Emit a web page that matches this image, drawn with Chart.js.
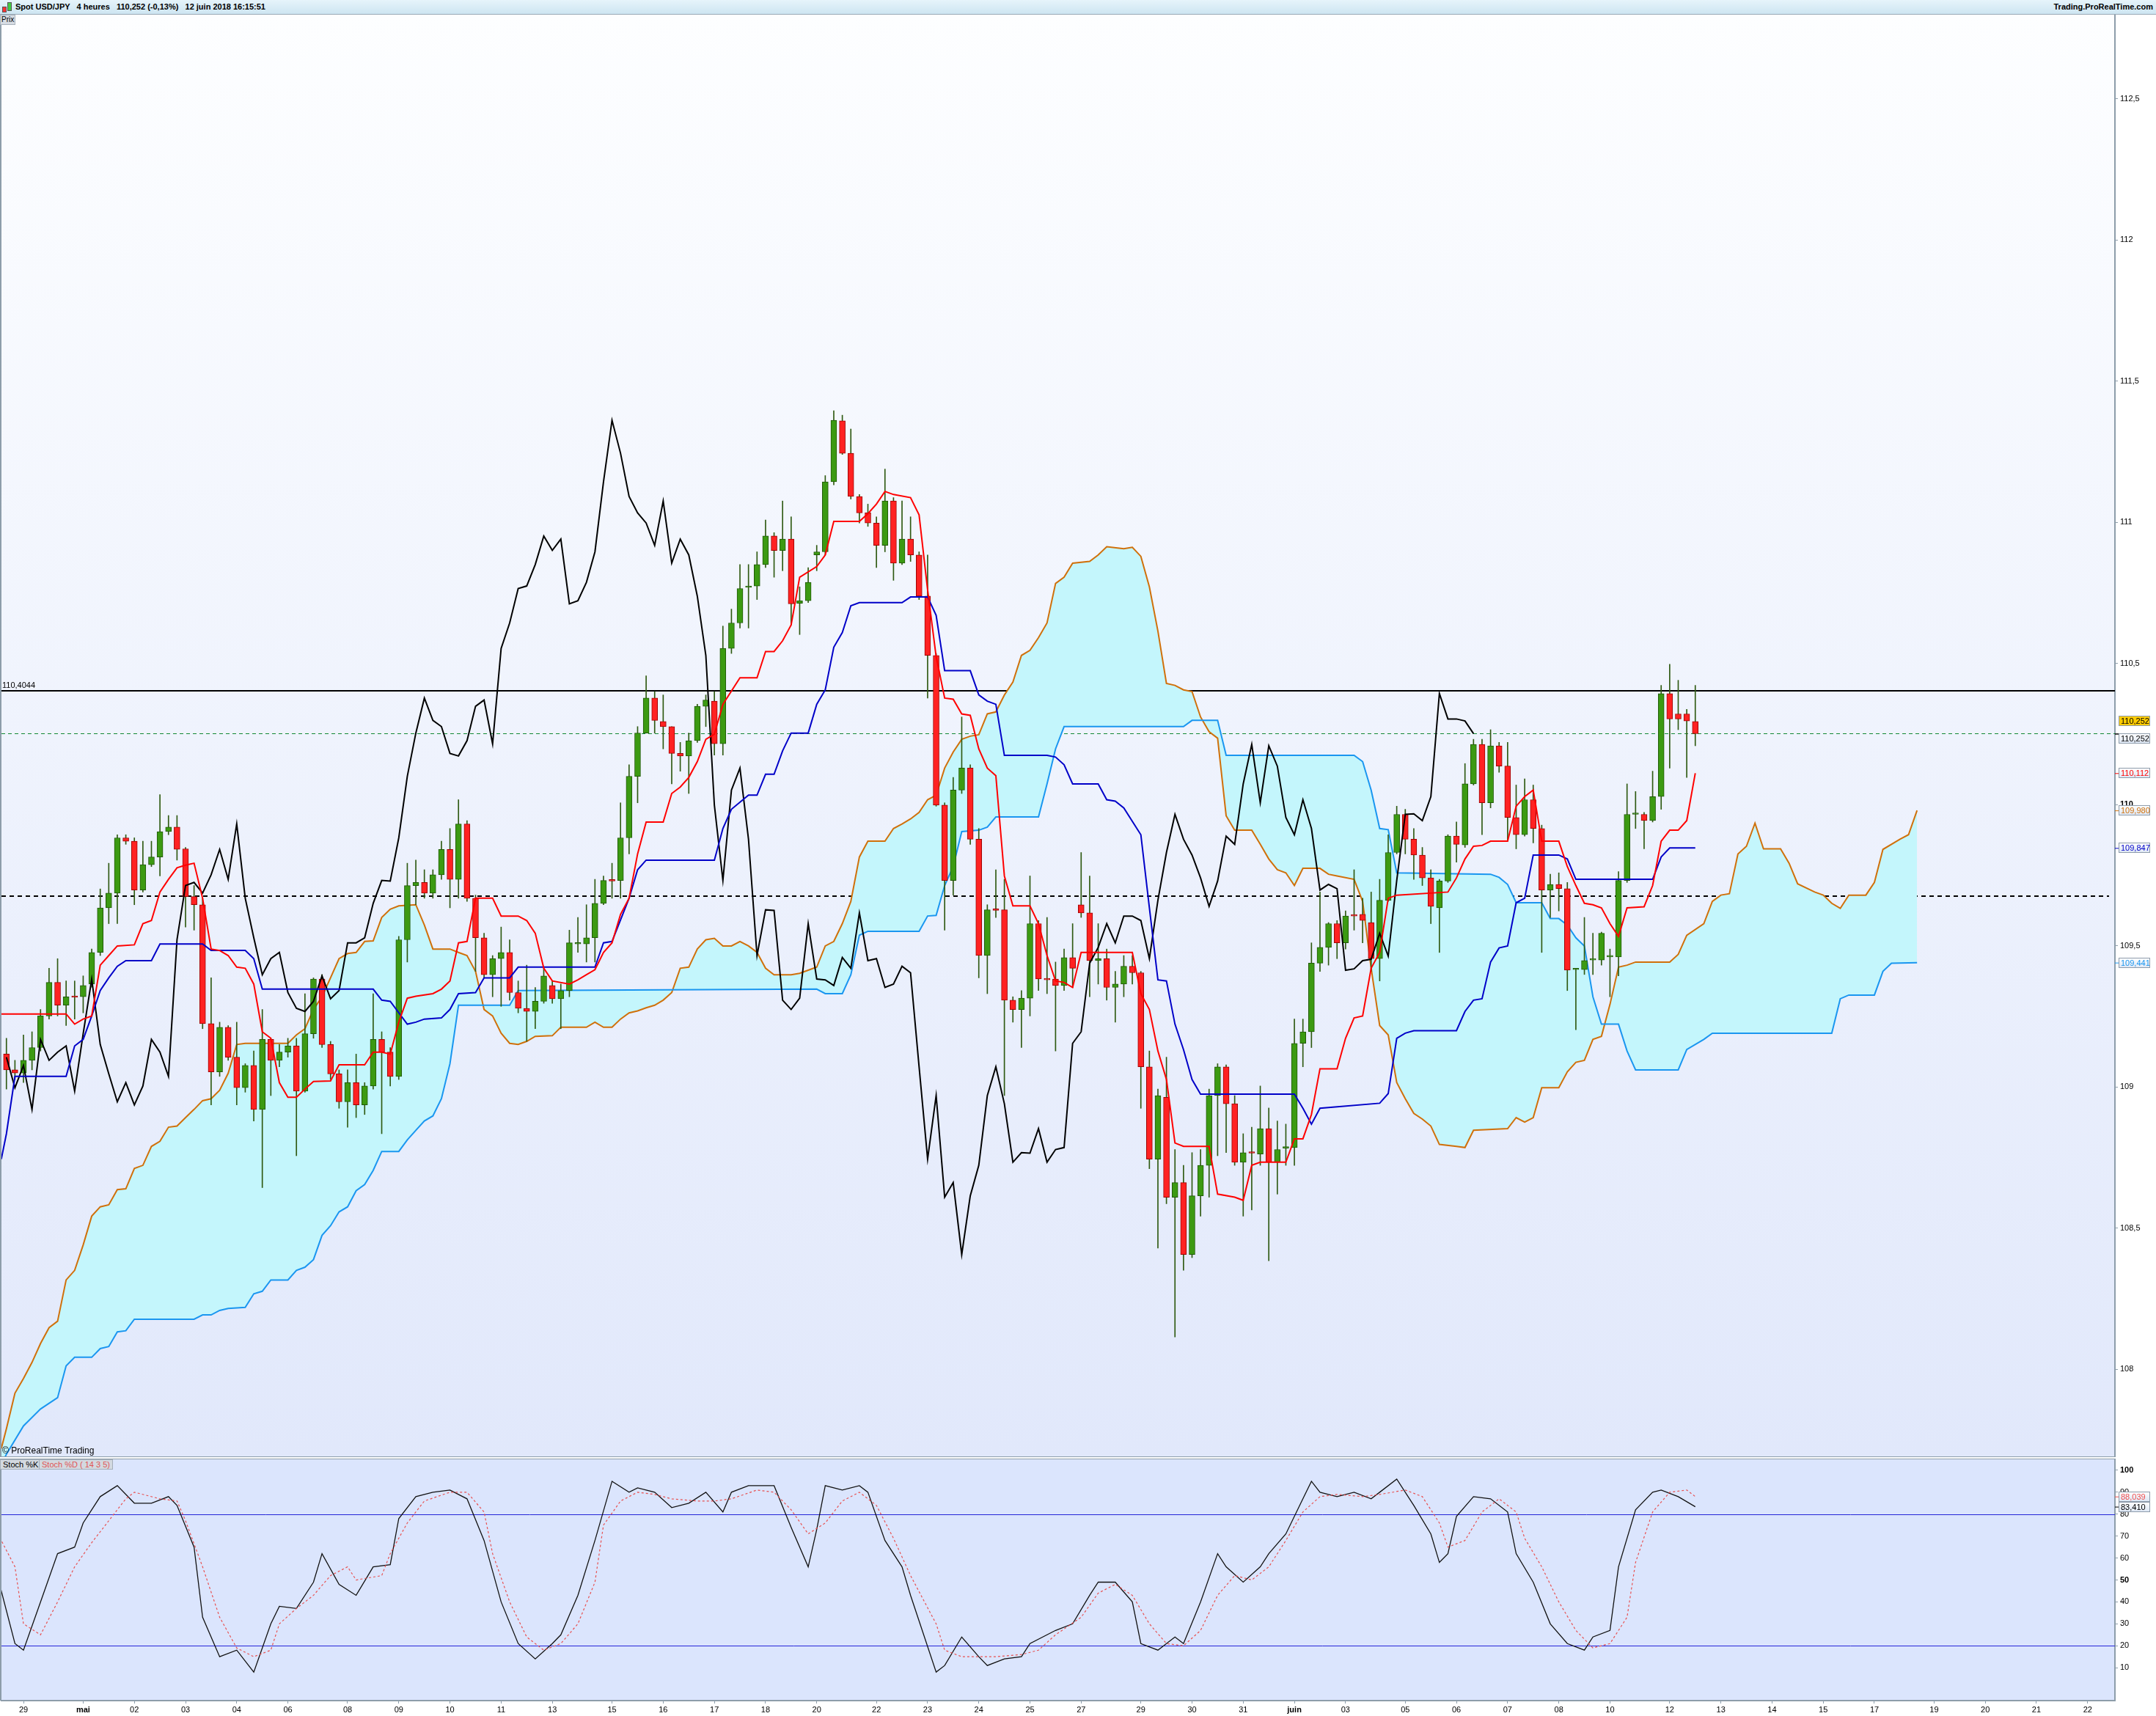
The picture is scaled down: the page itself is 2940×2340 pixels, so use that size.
<!DOCTYPE html>
<html>
<head>
<meta charset="utf-8">
<script src="https://cdn.jsdelivr.net/npm/chart.js@4.4.1/dist/chart.umd.min.js"></script>
<style>
  body { margin: 0; width: 2940px; height: 2340px; background: #fff; position: relative; overflow: hidden; font-family: Arial, "Liberation Sans", sans-serif; }
  #hdr { position: absolute; left: 0; top: 0; width: 2940px; height: 19px; background: linear-gradient(#e6f4fb, #cde5f1); border-bottom: 1px solid #98a8b6; }
  #hdr .t { position: absolute; top: 3px; font-size: 11px; font-weight: bold; white-space: pre; color: #000; }
  .ico { position: absolute; border: 1px solid #555; }
  #prix { position: absolute; left: 0; top: 20px; height: 12px; background: #d6dce3; border: 1px solid #a8b2bc; font-size: 10px; line-height: 12px; padding: 0 1px; z-index: 5; white-space: pre; }
  .lbl { position: absolute; top: 1990px; height: 12px; background: #d3d9e0; border: 1px solid #a5afba; font-size: 11px; line-height: 12px; padding: 0 3px; z-index: 5; white-space: pre; }
  canvas { position: absolute; left: 0; }
</style>
</head>
<body>
<div id="hdr">
  <div class="ico" style="left:3px;top:9px;width:4px;height:6px;background:#f33;"></div>
  <div class="ico" style="left:10px;top:3px;width:4px;height:10px;background:#4c4;"></div>
  <div class="t" style="left:21px;">Spot USD/JPY   4 heures   110,252 (-0,13%)   12 juin 2018 16:15:51</div>
  <div class="t" style="right:4px;">Trading.ProRealTime.com</div>
</div>
<div id="prix">Prix</div>
<div class="lbl" style="left:0;">Stoch %K</div>
<div class="lbl" style="left:53px;color:#e05555;">Stoch %D ( 14 3 5)</div>
<canvas id="price" width="2940" height="1967" style="top:20px;width:2940px;height:1967px"></canvas>
<canvas id="stoch" width="2940" height="352" style="top:1988px;width:2940px;height:352px"></canvas>
<script>
// ---- candles, one per 4h bar (bar 0 = Fri 27 Apr late, bar 198 = 12 Jun)
const opens = [109.117,109.061,109.050,109.095,109.140,109.252,109.371,109.290,109.320,109.320,
109.365,109.477,109.635,109.687,109.883,109.871,109.698,109.788,109.815,109.905,
109.921,109.844,109.675,109.646,109.225,109.054,109.212,109.106,108.998,109.077,
108.921,109.169,109.095,109.124,109.146,108.986,109.189,109.383,109.151,109.047,
108.948,109.016,108.937,109.004,109.169,109.124,109.038,109.522,109.714,109.725,
109.687,109.752,109.842,109.736,109.932,109.669,109.529,109.398,109.455,109.477,
109.335,109.279,109.268,109.304,109.360,109.313,109.342,109.507,109.507,109.529,
109.651,109.732,109.732,109.883,110.101,110.254,110.378,110.295,110.277,110.182,
110.173,110.227,110.349,110.367,110.216,110.554,110.644,110.770,110.775,110.851,
110.952,110.901,110.941,110.714,110.723,110.885,110.896,111.144,111.360,111.245,
111.092,111.034,110.998,110.919,111.076,110.856,110.941,110.885,110.739,110.529,
109.999,109.732,110.052,110.130,109.878,109.466,109.628,109.628,109.308,109.275,
109.315,109.579,109.383,109.383,109.360,109.459,109.646,109.617,109.448,109.455,
109.353,109.365,109.428,109.405,109.072,108.745,108.964,108.610,108.662,108.407,
108.615,108.723,108.970,109.072,108.941,108.734,108.768,108.763,108.853,108.734,
108.784,108.786,109.155,109.196,109.439,109.495,109.579,109.511,109.608,109.612,
109.583,109.455,109.662,109.831,109.966,109.878,109.822,109.741,109.635,109.730,
109.889,109.858,110.074,110.214,110.007,110.209,110.137,109.955,109.894,110.018,
109.916,109.698,109.718,109.703,109.416,109.416,109.450,109.450,109.461,109.461,
109.732,109.966,109.966,109.944,110.029,110.394,110.322,110.322,110.295];
const highs = [109.173,109.095,109.185,109.196,109.275,109.421,109.455,109.376,109.376,109.394,
109.489,109.702,109.793,109.894,109.894,109.883,109.871,109.871,110.036,109.962,
109.962,109.849,109.714,109.669,109.387,109.230,109.218,109.230,109.083,109.128,
109.275,109.173,109.151,109.173,109.173,109.331,109.387,109.398,109.162,109.061,
109.061,109.117,109.016,109.331,109.196,109.140,109.534,109.793,109.804,109.770,
109.770,109.871,109.916,110.018,109.944,109.680,109.545,109.466,109.567,109.522,
109.376,109.432,109.353,109.421,109.376,109.365,109.556,109.601,109.646,109.736,
109.748,109.793,110.007,110.142,110.277,110.457,110.401,110.389,110.277,110.221,
110.254,110.356,110.389,110.401,110.633,110.693,110.851,110.851,110.896,111.009,
110.964,111.076,111.020,110.772,110.840,110.919,111.166,111.396,111.380,111.331,
111.099,111.065,111.020,111.189,111.088,111.076,111.020,110.896,110.885,110.536,
110.007,110.097,110.311,110.142,109.916,109.646,109.770,109.736,109.320,109.342,
109.748,109.590,109.601,109.443,109.489,109.579,109.831,109.748,109.579,109.489,
109.410,109.466,109.466,109.410,109.128,108.993,109.106,108.779,108.723,108.768,
108.779,108.993,109.083,109.079,108.970,108.835,108.858,109.004,108.926,108.880,
108.869,109.241,109.241,109.511,109.691,109.583,109.590,109.624,109.770,109.669,
109.691,109.736,109.894,109.995,109.984,109.916,109.849,109.770,109.736,109.894,
109.939,110.146,110.232,110.232,110.266,110.221,110.221,110.070,110.092,110.070,
109.928,109.754,109.759,109.725,109.421,109.601,109.545,109.549,109.489,109.763,
110.074,110.047,109.973,110.119,110.423,110.498,110.441,110.338,110.423];
const lows = [108.993,109.027,109.016,109.061,109.128,109.241,109.252,109.218,109.241,109.263,
109.354,109.466,109.579,109.579,109.860,109.646,109.691,109.781,109.748,109.894,
109.804,109.567,109.556,109.207,108.937,109.038,109.095,108.937,108.982,108.880,
108.644,108.970,109.072,109.106,108.757,108.982,109.173,109.140,109.027,108.925,
108.858,108.892,108.903,108.993,108.835,109.004,109.027,109.443,109.646,109.669,
109.669,109.736,109.635,109.669,109.658,109.410,109.387,109.320,109.286,109.308,
109.263,109.162,109.207,109.297,109.297,109.207,109.320,109.477,109.443,109.443,
109.646,109.669,109.669,109.826,110.007,110.254,110.254,110.198,110.074,110.119,
110.040,110.221,110.277,110.176,110.176,110.536,110.626,110.626,110.727,110.840,
110.806,110.829,110.637,110.603,110.716,110.829,110.885,111.133,111.241,111.083,
110.998,110.986,110.840,110.896,110.795,110.851,110.862,110.727,110.378,109.995,
109.556,109.680,110.040,109.860,109.387,109.331,109.601,108.970,109.230,109.140,
109.252,109.342,109.331,109.128,109.342,109.353,109.601,109.320,109.365,109.308,
109.230,109.320,109.365,108.925,108.711,108.430,108.587,108.115,108.351,108.396,
108.543,108.610,108.757,108.768,108.723,108.543,108.565,108.723,108.385,108.621,
108.723,108.723,109.072,109.140,109.410,109.432,109.455,109.489,109.556,109.511,
109.410,109.376,109.658,109.826,109.826,109.736,109.714,109.579,109.477,109.725,
109.797,109.849,110.070,109.894,109.989,110.115,109.871,109.844,109.889,109.865,
109.477,109.601,109.624,109.342,109.203,109.399,109.399,109.432,109.320,109.394,
109.725,109.916,109.844,109.939,109.984,110.130,110.266,110.097,110.209];
const closes = [109.061,109.050,109.095,109.140,109.252,109.371,109.290,109.320,109.318,109.360,
109.477,109.635,109.687,109.883,109.871,109.698,109.788,109.815,109.905,109.921,
109.842,109.675,109.646,109.225,109.054,109.212,109.106,108.998,109.077,108.921,
109.169,109.095,109.124,109.146,108.986,109.189,109.383,109.151,109.047,108.948,
109.016,108.937,109.004,109.169,109.124,109.038,109.522,109.714,109.725,109.687,
109.752,109.842,109.736,109.932,109.669,109.529,109.398,109.455,109.477,109.335,
109.279,109.268,109.304,109.394,109.313,109.342,109.511,109.511,109.529,109.651,
109.732,109.730,109.883,110.101,110.254,110.378,110.299,110.277,110.182,110.173,
110.227,110.349,110.371,110.216,110.554,110.644,110.766,110.775,110.851,110.952,
110.901,110.941,110.712,110.723,110.788,110.896,111.144,111.362,111.245,111.092,
111.034,110.998,110.919,111.076,110.856,110.941,110.885,110.739,110.529,109.999,
109.732,110.052,110.130,109.878,109.466,109.628,109.626,109.308,109.275,109.315,
109.579,109.383,109.380,109.360,109.459,109.421,109.617,109.448,109.455,109.353,
109.365,109.428,109.405,109.072,108.745,108.970,108.610,108.662,108.407,108.615,
108.723,108.970,109.072,108.941,108.734,108.768,108.766,108.853,108.734,108.779,
108.786,109.155,109.196,109.439,109.495,109.579,109.511,109.606,109.606,109.590,
109.455,109.662,109.831,109.966,109.878,109.822,109.741,109.640,109.730,109.889,
109.860,110.074,110.214,110.007,110.209,110.137,109.955,109.894,110.018,109.916,
109.698,109.718,109.703,109.414,109.419,109.448,109.453,109.545,109.464,109.732,
109.966,109.968,109.944,110.029,110.394,110.304,110.304,110.297,110.252];

// ---- Ichimoku lines, [bar, price] vertices
const tenkan = [[-0.6,109.259],[7,109.259],[8,109.223],[9,109.241],[10,109.252],[11,109.432],[12,109.466],[13,109.500],[15,109.504],[16,109.579],[17,109.590],[18,109.691],[19,109.736],[20,109.777],[21,109.786],[22,109.793],[23,109.669],[24,109.489],[25,109.484],[26,109.466],[27,109.425],[28,109.421],[29,109.365],[30,109.196],[31,109.173],[32,109.016],[33,108.964],[34,108.964],[35,108.993],[36,109.020],[38,109.022],[39,109.079],[42,109.079],[43,109.124],[44,109.124],[45,109.117],[46,109.230],[47,109.315],[48,109.322],[50,109.331],[51,109.347],[52,109.376],[53,109.511],[54,109.516],[55,109.669],[57,109.669],[58,109.606],[60,109.606],[61,109.590],[62,109.545],[63,109.421],[64,109.376],[66,109.365],[67,109.380],[68,109.398],[69,109.416],[70,109.477],[71,109.511],[72,109.612],[73,109.669],[74,109.826],[75,109.939],[77,109.939],[78,110.040],[79,110.063],[80,110.097],[81,110.153],[82,110.232],[83,110.250],[84,110.356],[86,110.450],[88,110.450],[89,110.543],[90,110.543],[91,110.581],[92,110.637],[93,110.806],[95,110.844],[96,110.885],[97,111.004],[100,111.004],[101,111.031],[102,111.065],[103,111.110],[104,111.099],[106,111.088],[107,111.027],[108,110.761],[109,110.525],[110,110.378],[111,110.374],[112,110.322],[113,110.317],[114,110.198],[115,110.130],[116,110.103],[117,109.748],[118,109.642],[120,109.642],[121,109.579],[122,109.466],[123,109.376],[124,109.371],[125,109.353],[126,109.477],[132,109.477],[133,109.331],[134,109.275],[135,109.128],[136,109.027],[137,108.802],[138,108.790],[141,108.790],[142,108.621],[144,108.610],[145,108.599],[146,108.723],[147,108.734],[150,108.734],[151,108.817],[152,108.817],[153,108.903],[154,109.065],[156,109.065],[157,109.173],[158,109.245],[159,109.252],[160,109.421],[161,109.477],[162,109.669],[163,109.680],[169,109.691],[170,109.741],[171,109.808],[172,109.853],[173,109.856],[174,109.871],[176,109.871],[177,109.995],[178,110.029],[179,110.052],[180,109.871],[182,109.871],[183,109.781],[184,109.714],[185,109.651],[186,109.646],[187,109.635],[188,109.579],[189,109.534],[190,109.635],[192,109.639],[193,109.714],[194,109.871],[195,109.910],[196,109.910],[197,109.944],[198,110.112]];
const kijun = [[-0.6,108.745],[0,108.835],[1,109.038],[7,109.038],[8,109.146],[9,109.169],[10,109.252],[11,109.342],[12,109.387],[13,109.428],[14,109.448],[17,109.448],[18,109.507],[23,109.507],[24,109.484],[28,109.484],[29,109.455],[30,109.347],[43,109.347],[44,109.308],[45,109.304],[47,109.223],[48,109.230],[49,109.241],[51,109.245],[52,109.275],[53,109.331],[55,109.335],[56,109.387],[59,109.387],[60,109.425],[69,109.425],[70,109.511],[71,109.516],[73,109.669],[74,109.770],[75,109.804],[83,109.804],[84,109.916],[85,109.984],[87,110.034],[88,110.034],[89,110.108],[90,110.108],[91,110.191],[92,110.254],[94,110.254],[95,110.356],[96,110.407],[97,110.558],[98,110.610],[99,110.705],[100,110.716],[105,110.716],[106,110.736],[108,110.736],[109,110.671],[110,110.475],[113,110.475],[114,110.389],[115,110.367],[116,110.356],[117,110.175],[122,110.175],[123,110.169],[124,110.142],[125,110.074],[128,110.074],[129,110.018],[130,110.013],[131,109.989],[133,109.894],[134,109.635],[135,109.380],[136,109.376],[137,109.223],[138,109.133],[139,109.027],[140,108.975],[151,108.975],[152,108.925],[153,108.869],[154,108.925],[161,108.943],[162,108.977],[163,109.173],[164,109.191],[165,109.200],[170,109.200],[171,109.268],[172,109.308],[173,109.313],[174,109.443],[175,109.493],[176,109.500],[177,109.653],[178,109.669],[179,109.822],[182,109.822],[183,109.808],[184,109.736],[193,109.736],[194,109.815],[195,109.847],[198,109.847]];
// Senkou span A (orange) and span B (light blue), already shifted 26 bars ahead
const spanA = [[-0.6,107.72],[0,107.79],[1,107.916],[2,107.968],[3,108.025],[4,108.092],[5,108.148],[6,108.171],[7,108.317],[8,108.351],[9,108.441],[10,108.543],[11,108.576],[12,108.583],[13,108.637],[14,108.640],[15,108.712],[16,108.723],[17,108.790],[18,108.808],[19,108.858],[20,108.862],[21,108.892],[22,108.921],[23,108.952],[24,108.959],[25,108.989],[26,109.049],[27,109.151],[28,109.155],[33,109.155],[34,109.185],[35,109.207],[36,109.275],[37,109.320],[38,109.387],[39,109.455],[40,109.473],[41,109.477],[42,109.516],[43,109.518],[44,109.601],[45,109.630],[46,109.642],[48,109.646],[49,109.574],[50,109.489],[52,109.489],[53,109.477],[54,109.466],[55,109.410],[56,109.275],[57,109.252],[58,109.191],[59,109.155],[60,109.151],[61,109.162],[62,109.180],[64,109.182],[65,109.212],[68,109.212],[69,109.230],[70,109.212],[71,109.212],[72,109.241],[73,109.263],[74,109.270],[75,109.281],[76,109.290],[77,109.308],[78,109.335],[79,109.421],[80,109.425],[81,109.489],[82,109.522],[83,109.527],[84,109.500],[85,109.500],[86,109.516],[87,109.500],[88,109.477],[89,109.421],[90,109.398],[92,109.398],[93,109.403],[94,109.414],[95,109.425],[96,109.500],[97,109.516],[98,109.579],[99,109.658],[100,109.815],[101,109.871],[103,109.871],[104,109.916],[105,109.932],[106,109.950],[107,109.973],[108,110.018],[109,110.034],[110,110.130],[111,110.187],[112,110.232],[113,110.243],[114,110.248],[115,110.322],[116,110.329],[117,110.389],[118,110.435],[119,110.529],[120,110.547],[121,110.592],[122,110.644],[123,110.784],[124,110.806],[125,110.856],[127,110.862],[128,110.885],[129,110.914],[131,110.907],[132,110.912],[133,110.880],[134,110.772],[135,110.615],[136,110.430],[137,110.423],[138,110.407],[139,110.401],[140,110.311],[141,110.259],[142,110.236],[143,109.961],[144,109.910],[146,109.910],[147,109.860],[148,109.808],[149,109.770],[150,109.759],[151,109.714],[152,109.775],[154,109.775],[155,109.754],[156,109.748],[158,109.736],[159,109.658],[160,109.421],[161,109.218],[162,109.185],[163,109.016],[164,108.959],[165,108.907],[166,108.887],[167,108.862],[168,108.797],[170,108.790],[171,108.786],[172,108.847],[176,108.853],[177,108.892],[178,108.876],[179,108.892],[180,108.998],[182,108.998],[183,109.054],[184,109.088],[185,109.095],[186,109.169],[187,109.180],[188,109.293],[189,109.425],[190,109.432],[191,109.443],[195,109.443],[196,109.470],[197,109.538],[199,109.579],[200,109.658],[201,109.680],[202,109.685],[203,109.826],[204,109.853],[205,109.935],[206,109.844],[208,109.844],[209,109.793],[210,109.720],[212,109.691],[213,109.680],[214,109.651],[215,109.633],[216,109.680],[218,109.680],[219,109.725],[220,109.842],[222,109.878],[223,109.894],[224,109.980]];
const spanB = [[-0.6,107.66],[0,107.70],[2,107.80],[4,107.86],[6,107.90],[7,108.013],[8,108.043],[10,108.043],[11,108.074],[12,108.081],[13,108.133],[14,108.137],[15,108.178],[22,108.178],[23,108.193],[24,108.193],[25,108.209],[26,108.216],[28,108.220],[29,108.268],[30,108.277],[31,108.317],[33,108.317],[34,108.351],[35,108.362],[36,108.389],[37,108.475],[38,108.509],[39,108.558],[40,108.576],[41,108.633],[42,108.655],[43,108.705],[44,108.772],[46,108.772],[47,108.813],[48,108.847],[49,108.880],[50,108.898],[51,108.959],[52,109.083],[53,109.290],[59,109.290],[60,109.342],[95,109.347],[96,109.331],[98,109.331],[99,109.398],[100,109.538],[101,109.552],[107,109.552],[108,109.606],[109,109.608],[110,109.714],[111,109.781],[112,109.905],[114,109.910],[115,109.921],[116,109.957],[121,109.957],[122,110.074],[123,110.198],[124,110.277],[138,110.277],[139,110.299],[142,110.299],[143,110.175],[158,110.175],[159,110.153],[160,110.052],[161,109.916],[162,109.912],[163,109.759],[174,109.754],[175,109.743],[176,109.718],[177,109.653],[180,109.653],[181,109.597],[182,109.597],[183,109.574],[184,109.529],[185,109.500],[186,109.320],[187,109.223],[189,109.223],[190,109.128],[191,109.061],[196,109.061],[197,109.133],[199,109.169],[200,109.191],[214,109.191],[215,109.313],[216,109.326],[219,109.326],[220,109.410],[221,109.439],[224,109.441]];
const chikouShift = 26;

// ---- stochastic (14 3 5)
const stochK = [[-1,51],[1,21],[2,18],[4,40],[6,62],[8,65],[9,76],[11,88],[13,93],[15,85],[17,85],[19,88],[20,84],[22,65],[23,33],[25,15],[27,18],[29,8],[31,30],[32,38],[34,37],[36,49],[37,62],[39,48],[41,43],[43,56],[45,57],[46,78],[48,88],[50,90],[52,91],[54,87],[56,68],[58,40],[60,21],[62,14],[64,21],[65,25],[67,43],[69,68],[71,95],[73,90],[74,92],[76,90],[78,83],[80,85],[82,90],[84,81],[85,90],[87,93],[90,93],[92,74],[94,56],[95,73],[96,93],[98,91],[100,93],[101,90],[103,68],[105,56],[106,43],[109,8],[110,11],[112,24],[114,15],[115,11],[117,14],[119,15],[120,21],[123,27],[125,30],[127,43],[128,49],[130,49],[132,40],[133,21],[135,18],[137,24],[138,21],[140,40],[142,62],[143,56],[145,49],[147,56],[148,62],[150,71],[152,87],[153,95],[154,90],[156,88],[158,90],[160,87],[161,90],[163,96],[165,84],[167,71],[168,58],[169,62],[170,79],[172,88],[174,87],[176,81],[177,62],[179,49],[181,30],[183,21],[185,18],[186,24],[188,27],[189,56],[191,82],[193,90],[194,91],[196,88],[198,83.41]];
const stochD = [[-1,71],[1,56],[2,30],[4,25],[6,40],[8,56],[10,67],[12,77],[14,87],[15,90],[18,87],[20,86],[21,77],[23,56],[25,33],[27,19],[29,15],[31,18],[32,30],[34,37],[36,43],[38,52],[40,56],[41,50],[44,52],[45,62],[47,76],[49,86],[52,90],[54,90],[56,81],[57,62],[59,40],[61,24],[63,18],[65,21],[67,30],[69,49],[70,75],[72,86],[74,90],[76,89],[78,87],[81,86],[83,86],[85,87],[88,91],[90,90],[92,82],[94,71],[96,76],[98,86],[100,90],[102,84],[104,69],[106,52],[109,30],[110,18],[112,15],[116,15],[119,16],[121,18],[123,25],[126,33],[128,44],[130,48],[132,43],[134,30],[136,21],[138,20],[140,27],[142,43],[144,52],[146,50],[148,56],[150,68],[152,81],[154,88],[156,89],[159,88],[161,89],[164,91],[166,88],[168,76],[169,65],[171,68],[173,81],[175,87],[177,81],[178,69],[180,56],[182,40],[184,27],[186,19],[188,21],[190,33],[191,58],[193,81],[195,90],[197,91],[198,88.039]];
const stochBands = [80, 20];

// ---- reference levels and axis ticks
const lastPrice = 110.252;
const pivotLevel = 110.4044;
const supportLevel = 109.677;
const priceTicks = [108, 108.5, 109, 109.5, 110, 110.5, 111, 111.5, 112, 112.5];
const stochTicks = [10, 20, 30, 40, 50, 60, 70, 80, 90, 100];
const dayTickBars = [2, 9, 15, 21, 27, 33, 40, 46, 52, 58, 64, 71, 77, 83, 89, 95, 102, 108, 114, 120, 126, 133, 139, 145, 151, 157, 164, 170, 176, 182, 188, 195, 201, 207, 213, 219, 226, 232, 238, 244];
const dayTickLabels = ['29', 'mai', '02', '03', '04', '06', '08', '09', '10', '11', '13', '15', '16', '17', '18', '20', '22', '23', '24', '25', '27', '29', '30', '31', 'juin', '03', '05', '06', '07', '08', '10', '12', '13', '14', '15', '17', '19', '20', '21', '22'];
const X_MIN = -0.58, X_MAX = 247.2;

const FONT = 'Arial, "Liberation Sans", sans-serif';
Chart.defaults.font.family = FONT;
Chart.defaults.color = '#000';
const AXIS_GREY = '#8d9daa';
const CLOUD = 'rgb(196,246,252)';
const fmt = (v, d) => v.toFixed(d).replace('.', ',');
const pts = (arr) => arr.map(([x, y]) => ({ x, y }));

const UP_FILL = '#3c9a12', UP_EDGE = '#1f5a06';
const DN_FILL = '#ff2222', DN_EDGE = '#a00000';
const isUp = (k) => closes[k] >= opens[k];

const wickData = opens.map((o, k) => ({ x: k, y: [lows[k], highs[k]] }));
const bodyData = opens.map((o, k) => ({ x: k, y: [o, closes[k]] }));
const chikouData = closes.slice(chikouShift).map((c, k) => ({ x: k, y: c }));

const fixedRightAxis = (s) => { s.width = 56; s.paddingTop = 0; s.paddingBottom = 0; };

// price-panel label boxes on the right axis
const priceTags = [
  { v: lastPrice, text: fmt(lastPrice, 3), color: '#000', bg: '#ffcc00', dy: -17 },
  { v: lastPrice, text: fmt(lastPrice, 3), color: '#000', dy: 7 },
  { v: tenkan[tenkan.length - 1][1], text: fmt(tenkan[tenkan.length - 1][1], 3), color: '#ff0000' },
  { v: spanA[spanA.length - 1][1], text: fmt(spanA[spanA.length - 1][1], 3), color: '#d0700a' },
  { v: kijun[kijun.length - 1][1], text: fmt(kijun[kijun.length - 1][1], 3), color: '#0000c8' },
  { v: spanB[spanB.length - 1][1], text: fmt(spanB[spanB.length - 1][1], 3), color: '#1a96f0' },
];
const stochTags = [
  { v: stochD[stochD.length - 1][1], text: fmt(stochD[stochD.length - 1][1], 3), color: '#f05050' },
  { v: stochK[stochK.length - 1][1], text: fmt(stochK[stochK.length - 1][1], 3), color: '#000' },
];

function drawTags(chart, tags) {
  const ctx = chart.ctx, y = chart.scales.y, x0 = chart.chartArea.right;
  ctx.save();
  ctx.font = '11px ' + FONT;
  ctx.textBaseline = 'middle';
  tags.forEach(t => {
    const py = y.getPixelForValue(t.v);
    const cy = py + (t.dy || 0);
    ctx.strokeStyle = t.color; ctx.lineWidth = 1;
    ctx.beginPath(); ctx.moveTo(x0, py + 0.5); ctx.lineTo(x0 + 5, py + 0.5); ctx.stroke();
    const bx = x0 + 5, by = Math.round(cy - 7), bw = 43, bh = 14;
    if (t.bg) { ctx.fillStyle = t.bg; }
    else { const g = ctx.createLinearGradient(0, by, 0, by + bh); g.addColorStop(0, '#ffffff'); g.addColorStop(1, '#dce6f4'); ctx.fillStyle = g; }
    ctx.fillRect(bx, by, bw, bh);
    ctx.strokeStyle = '#8e9cab'; ctx.strokeRect(bx + 0.5, by + 0.5, bw - 1, bh - 1);
    ctx.fillStyle = t.color;
    ctx.fillText(t.text, bx + 3, by + bh / 2 + 1);
  });
  ctx.restore();
}

function hLine(chart, v, color, width, dash, xEnd) {
  const ctx = chart.ctx, a = chart.chartArea;
  const py = Math.round(chart.scales.y.getPixelForValue(v)) + (width % 2 ? 0.5 : 0);
  ctx.save();
  ctx.strokeStyle = color; ctx.lineWidth = width; ctx.setLineDash(dash);
  ctx.beginPath(); ctx.moveTo(a.left, py); ctx.lineTo(xEnd || a.right, py); ctx.stroke();
  ctx.restore();
  return py;
}

const pricePanel = {
  id: 'pricePanel',
  beforeDraw(chart) {
    const { ctx, chartArea: a } = chart;
    const g = ctx.createLinearGradient(0, a.top, 0, a.bottom);
    g.addColorStop(0, '#fdfeff');
    g.addColorStop(1, '#e1e8fb');
    ctx.save(); ctx.fillStyle = g; ctx.fillRect(a.left, a.top, a.right - a.left, a.bottom - a.top);
    ctx.fillStyle = AXIS_GREY; ctx.fillRect(0, 0, 2, chart.height);
    ctx.fillRect(0, a.bottom, a.right, 1);
    ctx.restore();
  },
  beforeDatasetsDraw(chart) {
    const a = chart.chartArea;
    const py = hLine(chart, pivotLevel, '#000', 2, [], a.right);
    hLine(chart, lastPrice, '#118833', 1, [5, 4]);
    hLine(chart, supportLevel, '#000', 2, [6, 5], a.right - 8);
    const ctx = chart.ctx;
    ctx.save(); ctx.font = '11px ' + FONT; ctx.fillStyle = '#000'; ctx.textBaseline = 'bottom';
    ctx.fillText(fmt(pivotLevel, 4), 3, py - 2);
    ctx.restore();
  },
  afterDraw(chart) {
    const ctx = chart.ctx, a = chart.chartArea;
    ctx.save(); ctx.font = '12px ' + FONT; ctx.fillStyle = '#000'; ctx.textBaseline = 'bottom';
    ctx.fillText('\u00a9 ProRealTime Trading', 3, a.bottom - 1);
    ctx.restore();
    drawTags(chart, priceTags);
  },
};

const stochPanel = {
  id: 'stochPanel',
  beforeDraw(chart) {
    const { ctx, chartArea: a } = chart;
    ctx.save(); ctx.fillStyle = '#dbe5fd'; ctx.fillRect(a.left, a.top, a.right - a.left, a.bottom - a.top);
    ctx.fillStyle = AXIS_GREY; ctx.fillRect(0, a.top - 1, a.right, 1); ctx.fillRect(0, a.top, 2, a.bottom - a.top);
    ctx.restore();
  },
  beforeDatasetsDraw(chart) {
    stochBands.forEach(b => hLine(chart, b, '#2424d8', 1, []));
  },
  afterDraw(chart) { drawTags(chart, stochTags); },
};

new Chart(document.getElementById('price'), {
  data: {
    datasets: [
      { type: 'line', label: 'spanA', data: pts(spanA), borderColor: '#d0700a', borderWidth: 2, pointRadius: 0,
        fill: { target: 1, above: CLOUD, below: CLOUD }, order: 10 },
      { type: 'line', label: 'spanB', data: pts(spanB), borderColor: '#1a96f0', borderWidth: 2, pointRadius: 0, fill: false, order: 9 },
      { type: 'bar', label: 'wick', data: wickData, backgroundColor: '#2f5a12', barThickness: 1, grouped: false, order: 8 },
      { type: 'bar', label: 'body', data: bodyData,
        backgroundColor: opens.map((o, k) => isUp(k) ? UP_FILL : DN_FILL),
        borderColor: opens.map((o, k) => isUp(k) ? UP_EDGE : DN_EDGE),
        borderWidth: 1, borderSkipped: false, barThickness: 8, minBarLength: 2, grouped: false, order: 7 },
      { type: 'line', label: 'chikou', data: chikouData, borderColor: '#000', borderWidth: 2, pointRadius: 0, fill: false, order: 4 },
      { type: 'line', label: 'kijun', data: pts(kijun), borderColor: '#0000c8', borderWidth: 2, pointRadius: 0, fill: false, order: 3 },
      { type: 'line', label: 'tenkan', data: pts(tenkan), borderColor: '#ff0000', borderWidth: 2, pointRadius: 0, fill: false, order: 2 },
    ],
  },
  options: {
    responsive: false, animation: false, events: [], devicePixelRatio: 1,
    layout: { padding: { left: 2, top: 1, right: 0, bottom: 1 } },
    plugins: { legend: { display: false }, tooltip: { enabled: false } },
    scales: {
      x: { type: 'linear', min: X_MIN, max: X_MAX, display: false, offset: false },
      y: {
        position: 'right', min: 107.692, max: 112.796,
        afterFit: fixedRightAxis,
        afterBuildTicks: (s) => { s.ticks = priceTicks.map(value => ({ value })); },
        ticks: { callback: (v) => String(v).replace('.', ','), padding: 3, color: '#000',
          font: (c) => ({ size: 11, weight: c.tick && c.tick.value === 110 ? 'bold' : 'normal' }) },
        grid: { drawOnChartArea: false, tickLength: 4, color: AXIS_GREY },
        border: { color: AXIS_GREY, width: 2 },
      },
    },
  },
  plugins: [pricePanel],
});

new Chart(document.getElementById('stoch'), {
  type: 'line',
  data: {
    datasets: [
      { label: '%D', data: pts(stochD), borderColor: '#e85050', borderWidth: 1.2, borderDash: [3, 3], pointRadius: 0, fill: false },
      { label: '%K', data: pts(stochK), borderColor: '#111', borderWidth: 1.3, pointRadius: 0, fill: false },
    ],
  },
  options: {
    responsive: false, animation: false, events: [], devicePixelRatio: 1,
    layout: { padding: { left: 2, top: 2, right: 0, bottom: 0 } },
    plugins: { legend: { display: false }, tooltip: { enabled: false } },
    scales: {
      x: {
        type: 'linear', min: X_MIN, max: X_MAX, offset: false,
        afterFit: (s) => { s.height = 21; s.paddingLeft = 0; s.paddingRight = 0; },
        afterBuildTicks: (s) => { s.ticks = dayTickBars.map(value => ({ value })); },
        ticks: { autoSkip: false, maxRotation: 0, padding: 2, color: '#000',
          callback: (v, k) => dayTickLabels[k],
          font: (c) => ({ family: '"Liberation Sans Narrow", "Arial Narrow", ' + FONT, size: 11,
            weight: (c.index === 1 || c.index === 24) ? 'bold' : 'normal' }) },
        grid: { drawOnChartArea: false, tickLength: 4, color: AXIS_GREY },
        border: { color: AXIS_GREY, width: 2 },
      },
      y: {
        position: 'right', min: -5, max: 105,
        afterFit: fixedRightAxis,
        afterBuildTicks: (s) => { s.ticks = stochTicks.map(value => ({ value })); },
        ticks: { padding: 3, color: '#000',
          font: (c) => ({ size: 11, weight: c.tick && (c.tick.value === 50 || c.tick.value === 100) ? 'bold' : 'normal' }) },
        grid: { drawOnChartArea: false, tickLength: 4, color: AXIS_GREY },
        border: { color: AXIS_GREY, width: 2 },
      },
    },
  },
  plugins: [stochPanel],
});
</script>
</body>
</html>
